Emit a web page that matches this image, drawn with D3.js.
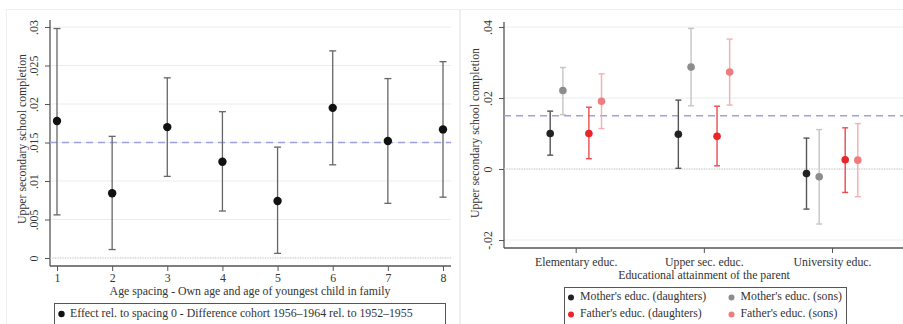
<!DOCTYPE html>
<meta charset="utf-8">
<script src="https://d3js.org/d3.v7.min.js"></script>
<style>
  body { margin: 0; background: #fff; }
  text { font-family: "Liberation Serif", "Times New Roman", serif; fill: #333; }
</style>
<div id="my_dataviz"></div>
<script>

// ---- left panel data: age spacing ----
var spacing = [1, 2, 3, 4, 5, 6, 7, 8];
var spacingEst = [0.0178, 0.0084, 0.0170, 0.0125, 0.0074, 0.0195, 0.0152, 0.0167];
var spacingLo  = [0.0056, 0.0011, 0.0106, 0.0061, 0.0006, 0.0121, 0.0071, 0.0079];
var spacingHi  = [0.0298, 0.0158, 0.0234, 0.0190, 0.0144, 0.0269, 0.0233, 0.0255];
var leftTicks = [0, 0.005, 0.01, 0.015, 0.02, 0.025, 0.03];
var leftTickLabels = ["0", ".005", ".01", ".015", ".02", ".025", ".03"];

// ---- right panel data: parental education ----
var educ = ["Elementary educ.", "Upper sec. educ.", "University educ."];
var seriesNames = ["Mother's educ. (daughters)", "Mother's educ. (sons)", "Father's educ. (daughters)", "Father's educ. (sons)"];
var motherDaughtersEst = [0.0100, 0.0098, -0.0013];
var motherDaughtersLo  = [0.0039, 0.0002, -0.0113];
var motherDaughtersHi  = [0.0163, 0.0194, 0.0087];
var motherSonsEst = [0.0221, 0.0287, -0.0022];
var motherSonsLo  = [0.0153, 0.0178, -0.0155];
var motherSonsHi  = [0.0286, 0.0396, 0.0111];
var fatherDaughtersEst = [0.0100, 0.0092, 0.0026];
var fatherDaughtersLo  = [0.0029, 0.0009, -0.0066];
var fatherDaughtersHi  = [0.0174, 0.0177, 0.0116];
var fatherSonsEst = [0.0191, 0.0273, 0.0025];
var fatherSonsLo  = [0.0114, 0.0180, -0.0078];
var fatherSonsHi  = [0.0268, 0.0366, 0.0128];
var rightTicks = [-0.02, 0, 0.02, 0.04];
var rightTickLabels = ["-.02", "0", ".02", ".04"];
var refLine = 0.015;

var W = 903, H = 324;
var FS = "11.8px";
var svg = d3.select("#my_dataviz").append("svg")
  .attr("width", W).attr("height", H);

// faint panel frames
svg.append("rect").attr("x", 6.5).attr("y", 9.5).attr("width", 453).attr("height", 330)
  .style("fill", "none").style("stroke", "#eef0f0");
svg.append("rect").attr("x", 460.5).attr("y", 9.5).attr("width", 450).attr("height", 330)
  .style("fill", "none").style("stroke", "#eef0f0");

var axisColor = "#555";

function yAxis(g, y, ticks, labels, x0, x1, top, bottom) {
  // gridlines
  g.selectAll(".grid").data(ticks).enter().append("line")
    .attr("x1", x0).attr("x2", x1)
    .attr("y1", function(d) { return y(d); }).attr("y2", function(d) { return y(d); })
    .style("stroke", "#e6eef0").style("stroke-width", 1);
  var ax = g.append("g").attr("transform", "translate(" + x0 + ",0)")
    .call(d3.axisLeft(y).tickValues(ticks).tickSize(5).tickSizeOuter(0)
      .tickFormat(function(d, i) { return labels[i]; }));
  ax.select(".domain").remove();
  ax.selectAll(".tick line").style("stroke", axisColor);
  ax.selectAll(".tick text")
    .attr("x", 0).attr("dy", 0)
    .attr("transform", "translate(-12.5,0) rotate(-90)")
    .attr("text-anchor", "middle")
    .style("font-size", FS).style("fill", "#333");
  g.append("line").attr("x1", x0).attr("x2", x0).attr("y1", top).attr("y2", bottom)
    .style("stroke", axisColor).style("stroke-width", 1.3);
}

// ================= LEFT PANEL =================
var L = { x0: 50, x1: 451, top: 20, bottom: 266 };
var xL = d3.scaleLinear().domain([1, 8]).range([57, 443]);
var yL = d3.scaleLinear().domain([0, 0.03]).range([258, 27]);
var gL = svg.append("g");

yAxis(gL, yL, leftTicks, leftTickLabels, L.x0, L.x1, L.top, L.bottom);
// zero line dotted
gL.append("line").attr("x1", L.x0).attr("x2", L.x1).attr("y1", yL(0)).attr("y2", yL(0))
  .style("stroke", "#c8c8c8").style("stroke-dasharray", "1,1.5");

var axL = gL.append("g").attr("transform", "translate(0," + L.bottom + ")")
  .call(d3.axisBottom(xL).tickValues(spacing).tickSize(5).tickSizeOuter(0).tickFormat(d3.format("d")));
axL.select(".domain").remove();
axL.selectAll(".tick line").style("stroke", axisColor);
axL.selectAll(".tick text").attr("y", 8).style("font-size", FS).style("fill", "#333");
gL.append("line").attr("x1", L.x0).attr("x2", L.x1).attr("y1", L.bottom).attr("y2", L.bottom)
  .style("stroke", axisColor).style("stroke-width", 1.3);

// reference line
gL.append("line").attr("x1", L.x0).attr("x2", L.x1).attr("y1", yL(refLine)).attr("y2", yL(refLine))
  .style("stroke", "#9da2dc").style("stroke-width", 1.6).style("stroke-dasharray", "7,5");

var leftData = spacing.map(function(s, i) {
  return { x: s, est: spacingEst[i], lo: spacingLo[i], hi: spacingHi[i] };
});
var eb = gL.selectAll(".eb").data(leftData).enter().append("g");
eb.append("line")
  .attr("x1", function(d) { return xL(d.x); }).attr("x2", function(d) { return xL(d.x); })
  .attr("y1", function(d) { return yL(d.lo); }).attr("y2", function(d) { return yL(d.hi); })
  .style("stroke", "#666").style("stroke-width", 1.3);
["lo", "hi"].forEach(function(k) {
  eb.append("line")
    .attr("x1", function(d) { return xL(d.x) - 3.5; }).attr("x2", function(d) { return xL(d.x) + 3.5; })
    .attr("y1", function(d) { return yL(d[k]); }).attr("y2", function(d) { return yL(d[k]); })
    .style("stroke", "#666").style("stroke-width", 1.3);
});
eb.append("circle")
  .attr("cx", function(d) { return xL(d.x); }).attr("cy", function(d) { return yL(d.est); })
  .attr("r", 4.2).style("fill", "#111");

gL.append("text").attr("x", 250).attr("y", 295).attr("text-anchor", "middle")
  .style("font-size", FS).text("Age spacing -  Own age and age of youngest child in family");
gL.append("text").attr("transform", "translate(26," + ((L.top + L.bottom) / 2 - 4) + ") rotate(-90)")
  .attr("text-anchor", "middle").style("font-size", FS).text("Upper secondary school completion");

// left legend
gL.append("rect").attr("x", 54.5).attr("y", 303.5).attr("width", 391).attr("height", 25)
  .style("fill", "none").style("stroke", "#555");
gL.append("circle").attr("cx", 61.5).attr("cy", 314).attr("r", 3.2).style("fill", "#111");
gL.append("text").attr("x", 70).attr("y", 314).attr("dominant-baseline", "middle")
  .style("font-size", FS).text("Effect rel. to spacing 0 - Difference cohort 1956\u20131964 rel. to 1952\u20131955");

// ================= RIGHT PANEL =================
var R = { x0: 504, x1: 903, top: 22, bottom: 248 };
var xR = d3.scalePoint().domain(educ).range([575.7, 832]);
var offset = d3.scaleOrdinal().domain(seriesNames).range([-25.5, -12.8, 13.2, 25.8]);
var yR = d3.scaleLinear().domain([0, 0.02]).range([169, 98]);
var gR = svg.append("g");

yAxis(gR, yR, rightTicks, rightTickLabels, R.x0, R.x1, R.top, R.bottom);
gR.append("line").attr("x1", R.x0).attr("x2", R.x1).attr("y1", yR(0)).attr("y2", yR(0))
  .style("stroke", "#c8c8c8").style("stroke-dasharray", "1,1.5");

var axR = gR.append("g").attr("transform", "translate(0," + R.bottom + ")")
  .call(d3.axisBottom(xR).tickSize(5).tickSizeOuter(0));
axR.select(".domain").remove();
axR.selectAll(".tick line").style("stroke", axisColor);
axR.selectAll(".tick text").attr("y", 10).style("font-size", FS).style("fill", "#333");
gR.append("line").attr("x1", R.x0).attr("x2", R.x1).attr("y1", R.bottom).attr("y2", R.bottom)
  .style("stroke", axisColor).style("stroke-width", 1.3);

gR.append("line").attr("x1", R.x0).attr("x2", R.x1).attr("y1", yR(refLine)).attr("y2", yR(refLine))
  .style("stroke", "#9da2dc").style("stroke-width", 1.6).style("stroke-dasharray", "7,5");

var series = [
  { name: seriesNames[0], est: motherDaughtersEst, lo: motherDaughtersLo, hi: motherDaughtersHi, dot: "#222", bar: "#555" },
  { name: seriesNames[1], est: motherSonsEst, lo: motherSonsLo, hi: motherSonsHi, dot: "#8c8c8c", bar: "#c4c4c4" },
  { name: seriesNames[2], est: fatherDaughtersEst, lo: fatherDaughtersLo, hi: fatherDaughtersHi, dot: "#e8262b", bar: "#ec4a4e" },
  { name: seriesNames[3], est: fatherSonsEst, lo: fatherSonsLo, hi: fatherSonsHi, dot: "#ef7d80", bar: "#f5aeb0" }
];

series.forEach(function(s) {
  var pts = educ.map(function(c, i) {
    return { x: xR(c) + offset(s.name), est: s.est[i], lo: s.lo[i], hi: s.hi[i] };
  });
  var g = gR.append("g").selectAll("g").data(pts).enter().append("g");
  g.append("line")
    .attr("x1", function(d) { return d.x; }).attr("x2", function(d) { return d.x; })
    .attr("y1", function(d) { return yR(d.lo); }).attr("y2", function(d) { return yR(d.hi); })
    .style("stroke", s.bar).style("stroke-width", 1.4);
  ["lo", "hi"].forEach(function(k) {
    g.append("line")
      .attr("x1", function(d) { return d.x - 3; }).attr("x2", function(d) { return d.x + 3; })
      .attr("y1", function(d) { return yR(d[k]); }).attr("y2", function(d) { return yR(d[k]); })
      .style("stroke", s.bar).style("stroke-width", 1.4);
  });
  g.append("circle")
    .attr("cx", function(d) { return d.x; }).attr("cy", function(d) { return yR(d.est); })
    .attr("r", 3.8).style("fill", s.dot);
});

gR.append("text").attr("x", 704).attr("y", 279).attr("text-anchor", "middle")
  .style("font-size", FS).text("Educational attainment of the parent");
gR.append("text").attr("transform", "translate(479," + ((R.top + R.bottom) / 2 - 2) + ") rotate(-90)")
  .attr("text-anchor", "middle").style("font-size", FS).text("Upper secondary school completion");

// right legend
gR.append("rect").attr("x", 564.5).attr("y", 287.5).attr("width", 282).attr("height", 40)
  .style("fill", "none").style("stroke", "#555");
var leg = gR.selectAll(".leg").data(series).enter().append("g")
  .attr("transform", function(d, i) {
    return "translate(" + (i % 2 === 0 ? 571 : 731.5) + "," + (i < 2 ? 297.5 : 314.5) + ")";
  });
leg.append("circle").attr("r", 3).style("fill", function(d) { return d.dot; });
leg.append("text").attr("x", 9).attr("dominant-baseline", "middle")
  .style("font-size", FS).text(function(d) { return d.name; });

</script>
